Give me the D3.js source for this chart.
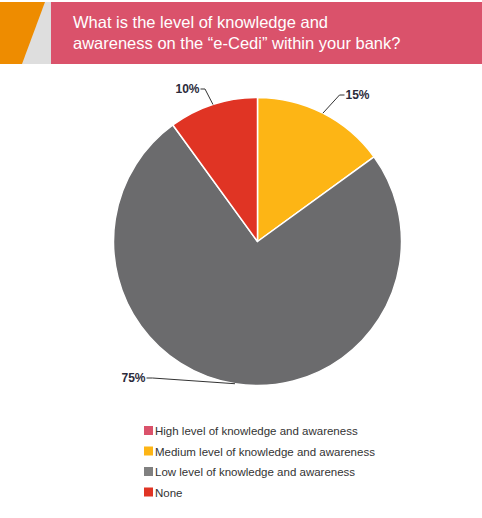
<!DOCTYPE html>
<html>
<head>
<meta charset="utf-8">
<script src="https://cdn.jsdelivr.net/npm/d3@7"></script>
<style>
  body { margin: 0; background: #fff; }
  text { font-family: "Liberation Sans", Arial, sans-serif; }
</style>
</head>
<body>
<div id="chart"></div>
<script>
// Data
var categories = [
  "High level of knowledge and awareness",
  "Medium level of knowledge and awareness",
  "Low level of knowledge and awareness",
  "None"
];
var values = [0, 15, 75, 10];
var colors = ["#da526b", "#fdb515", "#6b6b6d", "#e03424"];
var legendColors = ["#da526b", "#fdb515", "#808080", "#e03424"];
var titleLines = [
  "What is the level of knowledge and",
  "awareness on the \u201ce-Cedi\u201d within your bank?"
];

var width = 482, height = 518;
var cx = 257.5, cy = 241.5, radius = 144;

var svg = d3.select("#chart").append("svg")
  .attr("width", width)
  .attr("height", height);

// Header banner
svg.append("rect").attr("x", 0).attr("y", 2).attr("width", 51).attr("height", 62).attr("fill", "#dedede");
svg.append("path").attr("d", "M0,2 L45,2 L22,64 L0,64 Z").attr("fill", "#ee8c00");
svg.append("rect").attr("x", 51).attr("y", 2).attr("width", width - 51).attr("height", 62).attr("fill", "#da526b");

svg.append("g").selectAll("text")
  .data(titleLines)
  .enter().append("text")
    .attr("x", 73)
    .attr("y", function(d, i) { return 28 + i * 21; })
    .attr("fill", "#fff")
    .attr("font-size", 16.5)
    .text(function(d) { return d; });

// Pie
var pie = d3.pie().sort(null).value(function(d) { return d; });
var arc = d3.arc().innerRadius(0).outerRadius(radius);
var arcs = pie(values);

var g = svg.append("g").attr("transform", "translate(" + cx + "," + cy + ")");

g.selectAll("path.slice")
  .data(arcs.filter(function(d) { return d.value > 0; }))
  .enter().append("path")
    .attr("class", "slice")
    .attr("d", arc)
    .attr("fill", function(d) { return colors[d.index]; })
    .attr("stroke", "#fff")
    .attr("stroke-width", 1.5)
    .attr("stroke-linejoin", "round");

// Labels with leader lines (elbow then short run to the text)
var labelSpec = {
  1: { elbow: [82, -146.5], end: [87, -146.5], anchor: "start" },
  2: { elbow: [-105, 136.5], end: [-111, 136.5], anchor: "end" },
  3: { elbow: [-52.5, -152.5], end: [-57, -152.5], anchor: "end" }
};

arcs.forEach(function(d) {
  var s = labelSpec[d.index];
  if (!s) return;
  var mid = (d.startAngle + d.endAngle) / 2;
  var p0 = [Math.sin(mid) * radius, -Math.cos(mid) * radius];
  g.append("polyline")
    .attr("points", [p0, s.elbow, s.end].map(function(p) { return p.join(","); }).join(" "))
    .attr("fill", "none")
    .attr("stroke", "#333")
    .attr("stroke-width", 1);
  g.append("text")
    .attr("x", s.end[0] + (s.anchor === "start" ? 1 : -1))
    .attr("y", s.end[1] + 4)
    .attr("text-anchor", s.anchor)
    .attr("font-size", 12)
    .attr("font-weight", "bold")
    .attr("fill", "#2b2b3b")
    .text(d.value + "%");
});

// Legend
var legend = svg.append("g").attr("transform", "translate(144,426)")
  .selectAll("g")
  .data(categories)
  .enter().append("g")
    .attr("transform", function(d, i) { return "translate(0," + (i * 20.5) + ")"; });

legend.append("rect")
  .attr("width", 9).attr("height", 9)
  .attr("fill", function(d, i) { return legendColors[i]; });

legend.append("text")
  .attr("x", 11)
  .attr("y", 9)
  .attr("font-size", 11.5)
  .attr("fill", "#333")
  .text(function(d) { return d; });
</script>
</body>
</html>
